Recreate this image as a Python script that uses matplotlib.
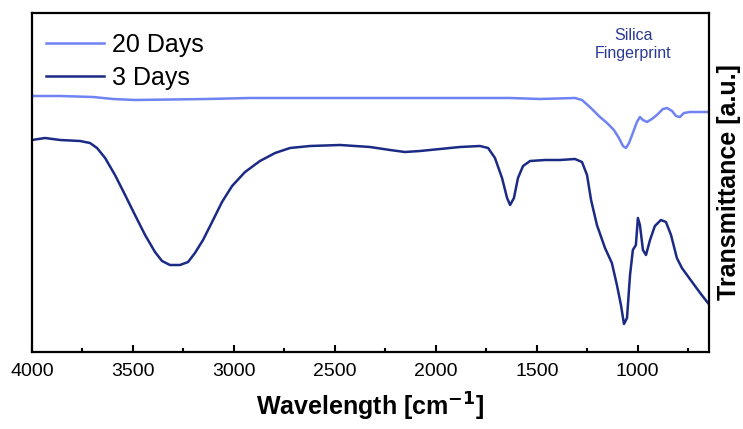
import matplotlib
matplotlib.use("Agg")
import matplotlib.pyplot as plt
from matplotlib.ticker import MultipleLocator

plt.rcParams["font.family"] = ["Liberation Sans", "DejaVu Sans"]

DARK = "#1b2a84"
LIGHT = "#6f83f2"

# 3 Days spectrum (wavenumber, transmittance a.u.)
wn_3d = [4000, 3936, 3861, 3762, 3713, 3678, 3638, 3589, 3539, 3490, 3440, 3391, 3356,
         3317, 3267, 3227, 3193, 3153, 3108, 3059, 3009, 2945, 2871, 2796, 2722, 2623,
         2474, 2326, 2227, 2153, 2078, 1979, 1880, 1781, 1741, 1707, 1672, 1647, 1632,
         1613, 1593, 1568, 1533, 1459, 1385, 1311, 1276, 1251, 1231, 1202, 1162, 1128,
         1103, 1083, 1068, 1053, 1038, 1024, 1009, 999, 989, 974, 959, 939, 915, 885,
         860, 835, 806, 781, 727, 687, 652]
tr_3d = [212, 214, 212, 211, 209, 204, 194, 177, 157, 137, 117, 100, 91,
         87, 87, 90, 99, 112, 130, 150, 166, 180, 191, 199, 204, 206,
         207, 205, 202, 200, 201, 203, 205, 206, 204, 194, 174, 154, 147,
         154, 174, 186, 191, 192, 192, 193, 190, 177, 152, 127, 104, 89,
         67, 47, 28, 34, 77, 102, 107, 134, 127, 102, 97, 112, 126, 132,
         130, 117, 94, 84, 69, 58, 49]

# 20 Days spectrum
wn_20d = [4000, 3861, 3698, 3599, 3490, 3133, 2920, 2673, 2276, 1930, 1633, 1484, 1311,
          1276, 1237, 1187, 1152, 1118, 1093, 1073, 1058, 1043, 1024, 1004, 989, 974,
          954, 930, 905, 875, 855, 830, 810, 791, 771, 741, 692, 652]
tr_20d = [256, 256, 255, 253, 252, 253, 254, 254, 254, 254, 254, 253, 254,
          252, 245, 235, 229, 222, 214, 206, 204, 209, 219, 230, 235, 232,
          230, 233, 237, 243, 244, 241, 236, 235, 239, 240, 240, 240]

fig = plt.figure(figsize=(7.43, 4.29), dpi=100)
ax = fig.add_axes([0.0431, 0.1795, 0.9111, 0.7902])

ax.plot(wn_20d, tr_20d, color=LIGHT, lw=1.8, label="20 Days")
ax.plot(wn_3d, tr_3d, color=DARK, lw=1.8, label="3 Days")

ax.set_xlim(4000, 647)
ax.set_ylim(0, 339)
ax.xaxis.set_major_locator(MultipleLocator(500))
ax.xaxis.set_minor_locator(MultipleLocator(250))
ax.set_yticks([])
ax.tick_params(axis="x", which="major", direction="in", length=5, width=1.5, labelsize=14, pad=8)
ax.tick_params(axis="x", which="minor", direction="in", length=3, width=1.5)
for s in ax.spines.values():
    s.set_linewidth(1.6)

ax.set_xlabel("Wavelength [cm$^{\\mathbf{-1}}$]", fontsize=18, fontweight="bold", labelpad=8)
ax.yaxis.set_label_position("right")
ax.set_ylabel("Transmittance [a.u.]", fontsize=18, fontweight="bold", labelpad=6)

ax.legend(loc="upper left", bbox_to_anchor=(0.006, 0.97), frameon=False, fontsize=18,
          handlelength=2.3, handletextpad=0.35, labelspacing=0.36, borderaxespad=0.2,
          borderpad=0.2)

ax.text(0.888, 0.907, "Silica\nFingerprint", transform=ax.transAxes, ha="center", va="center",
        fontsize=11.5, color="#2b3990", linespacing=1.3)

fig.savefig("out.png", dpi=100)
